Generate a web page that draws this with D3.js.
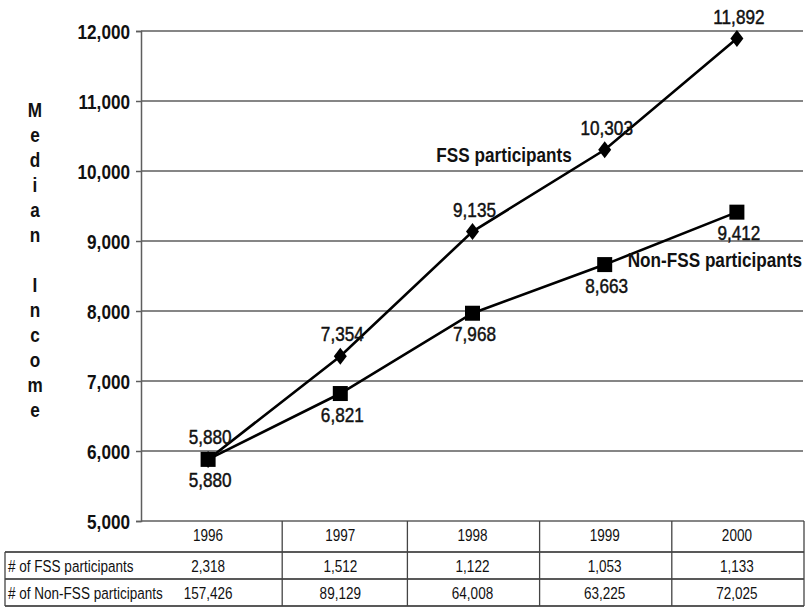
<!DOCTYPE html>
<html>
<head>
<meta charset="utf-8">
<script src="https://cdn.jsdelivr.net/npm/d3@7/dist/d3.min.js"></script>
<style>
  html, body { margin: 0; padding: 0; background: #fff; }
  svg { display: block; }
  text { font-family: "Liberation Sans", Arial, sans-serif; fill: #111; }
</style>
</head>
<body>
<svg id="chart" width="807" height="608"></svg>
<script>
// Median income by year for FSS and non-FSS participants
const years = ["1996", "1997", "1998", "1999", "2000"];
const fssIncome = [5880, 7354, 9135, 10303, 11892];
const nonFssIncome = [5880, 6821, 7968, 8663, 9412];
const fssCount = [2318, 1512, 1122, 1053, 1133];
const nonFssCount = [157426, 89129, 64008, 63225, 72025];
const yTicks = [5000, 6000, 7000, 8000, 9000, 10000, 11000, 12000];
const rowLabels = ["# of FSS participants", "# of Non-FSS participants"];
const axisTitle = "Median Income";
const seriesNames = ["FSS participants", "Non-FSS participants"];

const W = 807, H = 608;
const plot = { left: 141, right: 803, top: 31, bottom: 521 };
const table = { left: 5, right: 804, rowTop: 552, rowH: 27 };
const SX = 0.88; // glyph width factor used for all labels

const svg = d3.select("#chart");
const fmt = d3.format(",");

const x = d3.scaleBand().domain(years).range([plot.left + 1, plot.right]);
const cx = d => x(d) + x.bandwidth() / 2;
const y = d3.scaleLinear().domain([5000, 12000]).range([plot.bottom, plot.top]);

function label(g, px, py, str, opt = {}) {
  const t = g.append("text")
    .attr("transform", `translate(${px},${py}) scale(${opt.sx || SX},1)`)
    .attr("text-anchor", opt.anchor || "middle")
    .attr("font-size", opt.size || 19.5)
    .attr("font-weight", opt.weight || "normal")
    .text(str);
  if (opt.heavy) t.attr("stroke", "#111").attr("stroke-width", opt.heavy);
  return t;
}

// Horizontal gridlines
svg.append("g")
  .selectAll("line")
  .data(yTicks)
  .join("line")
  .attr("x1", plot.left).attr("x2", d => d === 5000 ? table.right : plot.right)
  .attr("y1", d => y(d)).attr("y2", d => y(d))
  .attr("stroke", "#5e5e5e").attr("stroke-width", 1.5);

// Y axis
const yAxis = svg.append("g")
  .attr("transform", `translate(${plot.left},0)`)
  .call(d3.axisLeft(y).tickValues(yTicks).tickSize(5).tickPadding(6).tickFormat(fmt));
yAxis.select(".domain").attr("stroke", "#5e5e5e").attr("stroke-width", 1.5);
yAxis.selectAll(".tick line").attr("stroke", "#5e5e5e").attr("stroke-width", 1.5);
yAxis.selectAll(".tick text")
  .attr("font-family", "'Liberation Sans', Arial, sans-serif")
  .attr("font-size", 19.5)
  .attr("font-weight", "bold")
  .attr("fill", "#111")
  .attr("dy", "0.36em")
  .attr("transform", `scale(${SX},1)`)
  .attr("x", -11 / SX);

// Vertical axis title, one letter per line
const titleG = svg.append("g");
axisTitle.split("").forEach((ch, i) => {
  if (ch === " ") return;
  label(titleG, 35, 117 + i * 25, ch, { weight: "bold" });
});

// Series lines and markers
const line = d3.line().x((d, i) => cx(years[i])).y(d => y(d));

svg.append("path")
  .datum(fssIncome)
  .attr("d", line)
  .attr("fill", "none").attr("stroke", "#000").attr("stroke-width", 2.6);
svg.append("path")
  .datum(nonFssIncome)
  .attr("d", line)
  .attr("fill", "none").attr("stroke", "#000").attr("stroke-width", 2.6);

svg.append("g")
  .selectAll("path")
  .data(fssIncome)
  .join("path")
  .attr("d", "M0,-8.5L6.5,0L0,8.5L-6.5,0Z")
  .attr("transform", (d, i) => `translate(${cx(years[i])},${y(d)})`)
  .attr("fill", "#000");

svg.append("g")
  .selectAll("rect")
  .data(nonFssIncome)
  .join("rect")
  .attr("x", (d, i) => cx(years[i]) - 7.5)
  .attr("y", d => y(d) - 7.5)
  .attr("width", 15).attr("height", 15)
  .attr("fill", "#000");

// Value labels
const valG = svg.append("g");
fssIncome.forEach((v, i) => label(valG, cx(years[i]) + 2, y(v) - 15, fmt(v), { heavy: 0.45 }));
nonFssIncome.forEach((v, i) => label(valG, cx(years[i]) + 2, y(v) + 28, fmt(v), { heavy: 0.45 }));

// Series names
const i99 = years.indexOf("1999");
label(svg, cx(years[i99]) - 33, y(fssIncome[i99]) + 12, seriesNames[0], { anchor: "end", weight: "bold" });
label(svg, cx(years[i99]) + 23, y(nonFssIncome[i99]) + 2, seriesNames[1], { anchor: "start", weight: "bold" });

// Data table under the chart
const tg = svg.append("g");
const rowYs = [table.rowTop, table.rowTop + table.rowH, table.rowTop + 2 * table.rowH];
rowYs.forEach(ry => {
  tg.append("line")
    .attr("x1", table.left).attr("x2", table.right)
    .attr("y1", ry).attr("y2", ry)
    .attr("stroke", "#222").attr("stroke-width", 1.6);
});
tg.append("line")
  .attr("x1", table.left).attr("x2", table.left)
  .attr("y1", rowYs[0]).attr("y2", rowYs[2])
  .attr("stroke", "#444").attr("stroke-width", 1.3);
tg.append("line")
  .attr("x1", table.right).attr("x2", table.right)
  .attr("y1", plot.bottom).attr("y2", rowYs[2])
  .attr("stroke", "#444").attr("stroke-width", 1.3);
years.slice(1).forEach((yr, i) => {
  const dx = (cx(years[i]) + cx(yr)) / 2 + (i === 0 ? 8 : 1);
  tg.append("line")
    .attr("x1", dx).attr("x2", dx)
    .attr("y1", plot.bottom).attr("y2", rowYs[2])
    .attr("stroke", "#444").attr("stroke-width", 1.3);
});

const TS = 16.5, TSX = 0.82;
years.forEach((yr, i) => {
  label(tg, cx(yr), plot.bottom + 20, yr, { size: TS, sx: TSX });
  label(tg, cx(yr), rowYs[0] + 20, fmt(fssCount[i]), { size: TS, sx: TSX });
  label(tg, cx(yr), rowYs[1] + 20, fmt(nonFssCount[i]), { size: TS, sx: TSX });
});
rowLabels.forEach((t, r) => {
  label(tg, table.left + 3, rowYs[r] + 20, t, { size: TS, sx: TSX, anchor: "start" });
});
</script>
</body>
</html>
